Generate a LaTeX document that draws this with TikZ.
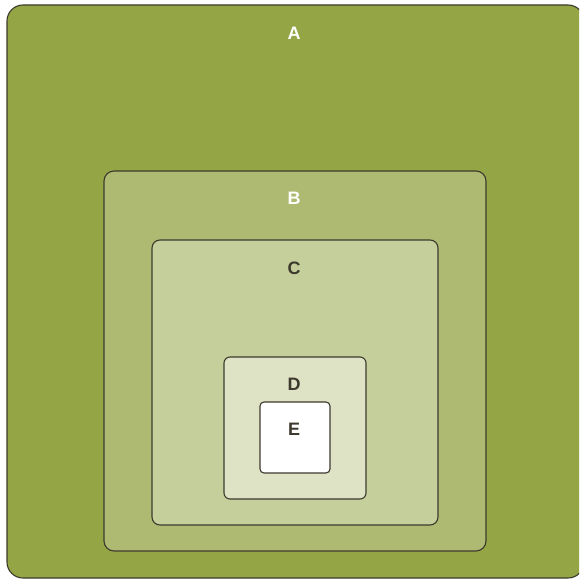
\documentclass[tikz,border=0pt]{standalone}
\usepackage{fontspec}
\setmainfont{Liberation Sans}
\begin{document}
\begin{tikzpicture}[x=1pt,y=-1pt,
  box/.style={draw=black!75!olive, line width=1.1pt},
  lbl/.style={font=\bfseries\fontsize{18}{20}\selectfont, inner sep=0pt, anchor=center},
  lightlbl/.style={lbl, text=white},
  darklbl/.style={lbl, text=black!75!olive}]
\definecolor{cA}{HTML}{94A545}
\definecolor{cB}{HTML}{AEBA72}
\definecolor{cC}{HTML}{C5CF9B}
\definecolor{cD}{HTML}{DEE3C6}
\clip (0,0) rectangle (579,580);
\fill[white] (0,0) rectangle (579,580);
\draw[box, fill=cA, rounded corners=16pt] (7,5) rectangle (584,578);
\draw[box, fill=cB, rounded corners=10pt] (104,171) rectangle (486,551);
\draw[box, fill=cC, rounded corners=8pt] (152,240) rectangle (438,525);
\draw[box, fill=cD, rounded corners=6pt] (224,357) rectangle (366,499);
\draw[box, fill=white, rounded corners=4pt] (260,402) rectangle (330,473);
\node[lightlbl] (a) at (294,33) {A};
\node[lightlbl] (b) at (294,198) {B};
\node[darklbl] (c) at (294,268) {C};
\node[darklbl] (d) at (294,384) {D};
\node[darklbl] (e) at (294,429) {E};
\end{tikzpicture}
\end{document}
